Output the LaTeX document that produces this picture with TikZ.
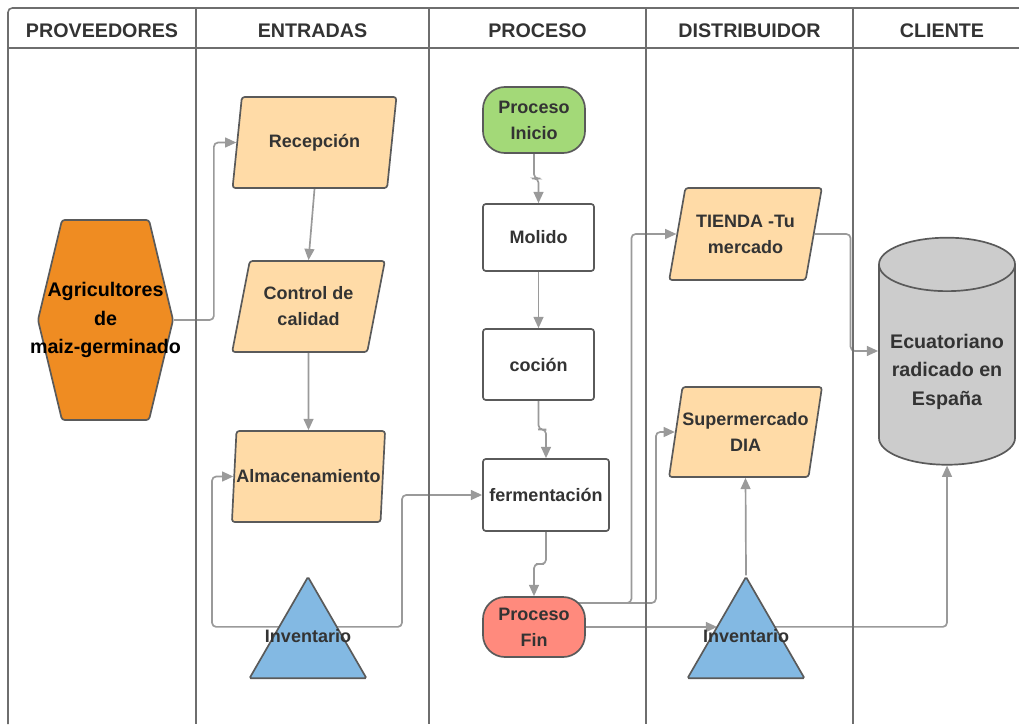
\documentclass[tikz,border=0pt]{standalone}
\usepackage{fontspec}
\setmainfont{Liberation Sans}
\usepackage{xcolor}
\usetikzlibrary{arrows.meta,shapes.geometric,shapes.symbols,calc,backgrounds}
\definecolor{LaneGray}{HTML}{6E6E6E}
\definecolor{EdgeGray}{HTML}{5A5A5A}
\definecolor{ConnGray}{HTML}{9A9A9A}
\definecolor{TextGray}{HTML}{333333}
\definecolor{HexOrange}{HTML}{EF8C22}
\definecolor{InputFill}{HTML}{FFDBA7}
\definecolor{StartGreen}{HTML}{A3D978}
\definecolor{EndRed}{HTML}{FF8A7D}
\definecolor{InvBlue}{HTML}{83B9E3}
\definecolor{CylGray}{HTML}{CCCCCC}
\tikzset{
    Base/.style = {draw=EdgeGray,line width=1.2pt,text=TextGray,align=center,inner sep=0pt,
        font=\bfseries\fontsize{12.8}{18.5}\selectfont},
    Input/.style = {Base,trapezium,trapezium left angle=71,trapezium right angle=109,
        trapezium stretches=true,fill=InputFill,rounded corners=2pt,
        minimum width=#1,minimum height=2.275cm},
    ProcBox/.style = {Base,rectangle,fill=white,rounded corners=2pt},
    Terminal/.style = {Base,rectangle,rounded corners=0.55cm,minimum width=2.55cm},
    Inv/.style = {Base,regular polygon,regular polygon sides=3,minimum size=3.375cm,
        fill=InvBlue,rounded corners=1pt,
        label={[text=TextGray,font=\bfseries\fontsize{12.8}{18.5}\selectfont,yshift=0.22cm]center:Inventario}},
    BigText/.style = {align=center,font=\bfseries\fontsize{14}{20}\selectfont},
    Conn/.style = {draw=ConnGray,line width=1.2pt,rounded corners=3pt,
        -{Triangle[length=8pt,width=7pt]}},
    Lane/.style = {draw=LaneGray,line width=1.1pt},
    Head/.style = {text=TextGray,font=\bfseries\fontsize{14}{16}\selectfont}
}
\begin{document}
\begin{tikzpicture}[x=0.025cm,y=-0.025cm]
    \useasboundingbox (0,0) rectangle (1019,724);
    \draw[Lane,rounded corners=3pt] (8,724) |- (1019,8);
    \draw[Lane] (8,48) -- (1019,48);
    \foreach \X in {196,429,646,853}
        {\draw[Lane] (\X,8) -- (\X,724);}
    \foreach \X/\T [count=\i] in {102/PROVEEDORES,312.5/ENTRADAS,537.5/PROCESO,749.5/DISTRIBUIDOR,942/CLIENTE}
        {\node[Head] (head\i) at (\X,31) {\T};}

    \node[Base,signal,signal to=east and west,signal pointer angle=153,fill=HexOrange,
        rounded corners=2pt,minimum width=3.375cm,minimum height=5cm,
        label={[BigText,text=black]center:Agricultores\\de\\maiz-germinado}] (agr) at (105.5,320) {};

    \node[Input=4.125cm] (recep) at (314.5,142.5) {Recepción};
    \node[Input=3.825cm] (ctrl) at (308.5,306.5) {Control de\\calidad};
    \node[Input=3.825cm] (alm) at (308.5,476.5) {Almacenamiento};
    \node[Inv] (invE) at (308,644.5) {};

    \node[Terminal,fill=StartGreen,minimum height=1.65cm] (ini) at (534,120) {Proceso\\Inicio};
    \node[ProcBox,minimum width=2.775cm,minimum height=1.675cm] (mol) at (538.5,237.5) {Molido};
    \node[ProcBox,minimum width=2.775cm,minimum height=1.775cm] (coc) at (538.5,364.5) {coción};
    \node[ProcBox,minimum width=3.15cm,minimum height=1.8cm] (ferm) at (546,495) {fermentación};
    \node[Terminal,fill=EndRed,minimum height=1.5cm] (fin) at (534,627) {Proceso\\Fin};

    \node[Input=3.825cm,minimum height=2.3cm] (tienda) at (745.5,234) {TIENDA -Tu\\mercado};
    \node[Input=3.825cm,minimum height=2.25cm] (super) at (745.5,432) {Supermercado\\DIA};
    \node[Inv] (invD) at (746,644.5) {};

    \node[Base,BigText,cylinder,shape border rotate=90,aspect=0.47,fill=CylGray,
        minimum width=3.4cm,minimum height=5.675cm] (cli) at (947,365)
        {\rule{0pt}{0.7cm}Ecuatoriano\\radicado en\\España};

    \begin{scope}[on background layer]
        \draw[Conn] (agr.east) -- ++(40,0) |- (recep.west);
        \draw[Conn] (recep.south) -- (ctrl.north);
        \draw[Conn] (ctrl.south) -- (alm.north);
        \draw[Conn] ([yshift=.44cm]invE.center) -- ++(-96,0) |- (alm.west);
        \draw[Conn] ([yshift=.44cm]invE.center) -- ++(94,0) |- (ferm.west);
        \foreach \A/\B in {ini/mol,coc/ferm,ferm/fin}
            {\draw[Conn] (\A.south) |- ($(\A.south)!.5!(\B.north)$) -| (\B.north);}
        \draw[Conn] (mol.south) -- (coc.north);
        \draw[Conn] ([yshift=.6cm]fin.center) -| ([xshift=-1.125cm]tienda.west) -- (tienda.west);
        \draw[Conn] ([yshift=.6cm]fin.center) -| ([xshift=-0.475cm]super.west) -- (super.west);
        \draw[Conn] (fin.east) -- ([xshift=-0.72cm]invD.center |- fin.east);
        \draw[Conn] (invD.north) -- (super.south);
        \draw[Conn] ([yshift=.44cm]invD.center) -| (cli.south);
        \draw[Conn] (tienda.east) -- ++(36,0) |- ([yshift=.35cm]cli.west);
    \end{scope}
\end{tikzpicture}
\end{document}
